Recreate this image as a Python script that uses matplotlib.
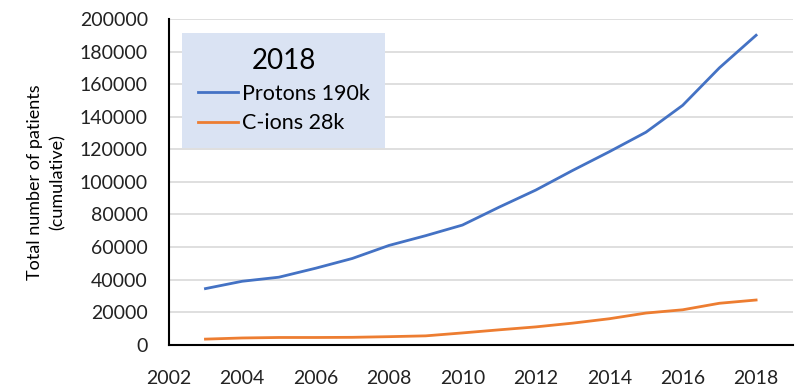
import numpy as np
import matplotlib.pyplot as plt

plt.rcParams['font.family'] = ['Lato', 'DejaVu Sans']

years = [2003, 2004, 2005, 2006, 2007, 2008, 2009, 2010, 2011, 2012, 2013, 2014, 2015, 2016, 2017, 2018]
protons = [34500, 39000, 41500, 47000, 53000, 61000, 67000, 73500, 84500, 95000, 107000, 118500, 130500, 147000, 170000, 190000]
cions = [3500, 4200, 4500, 4500, 4600, 5000, 5500, 7300, 9200, 11000, 13300, 16000, 19500, 21500, 25500, 27500]

fig = plt.figure(figsize=(7.96, 3.87), dpi=100)
ax = fig.add_axes([0.212, 0.109, 0.784, 0.842])

ax.plot(years, protons, color='#4472C4', lw=2.0, label='Protons 190k')
ax.plot(years, cions, color='#ED7D31', lw=2.0, label='C-ions 28k')

ax.set_xlim(2002, 2019)
ax.set_ylim(0, 200000)
ax.set_xticks(range(2002, 2019, 2))
ax.set_yticks(range(0, 200001, 20000))
ax.grid(axis='y', color='#D9D9D9', lw=1.2)
ax.set_axisbelow(True)
for s in ['top', 'right']:
    ax.spines[s].set_visible(False)
ax.spines['left'].set_color('black')
ax.spines['bottom'].set_color('black')
ax.spines['left'].set_linewidth(1.5)
ax.spines['bottom'].set_linewidth(1.5)
ax.tick_params(length=0, labelsize=14, colors='#222222')
ax.tick_params(axis='y', pad=15)
ax.tick_params(axis='x', pad=18)
ax.set_ylabel('Total number of patients\n(cumulative)', fontsize=13, labelpad=10,
              multialignment='center', linespacing=1.5)

leg = ax.legend(title='2018', loc='upper left', bbox_to_anchor=(0.022, 0.957),
                borderaxespad=0, fontsize=15.5, title_fontsize=20, frameon=True,
                facecolor='#DAE3F3', edgecolor='none', framealpha=1, fancybox=False,
                handlelength=1.9, handletextpad=0.15, borderpad=0.7, labelspacing=0.45)
leg.get_frame().set_linewidth(0)

fig.savefig('out.png', dpi=100)
